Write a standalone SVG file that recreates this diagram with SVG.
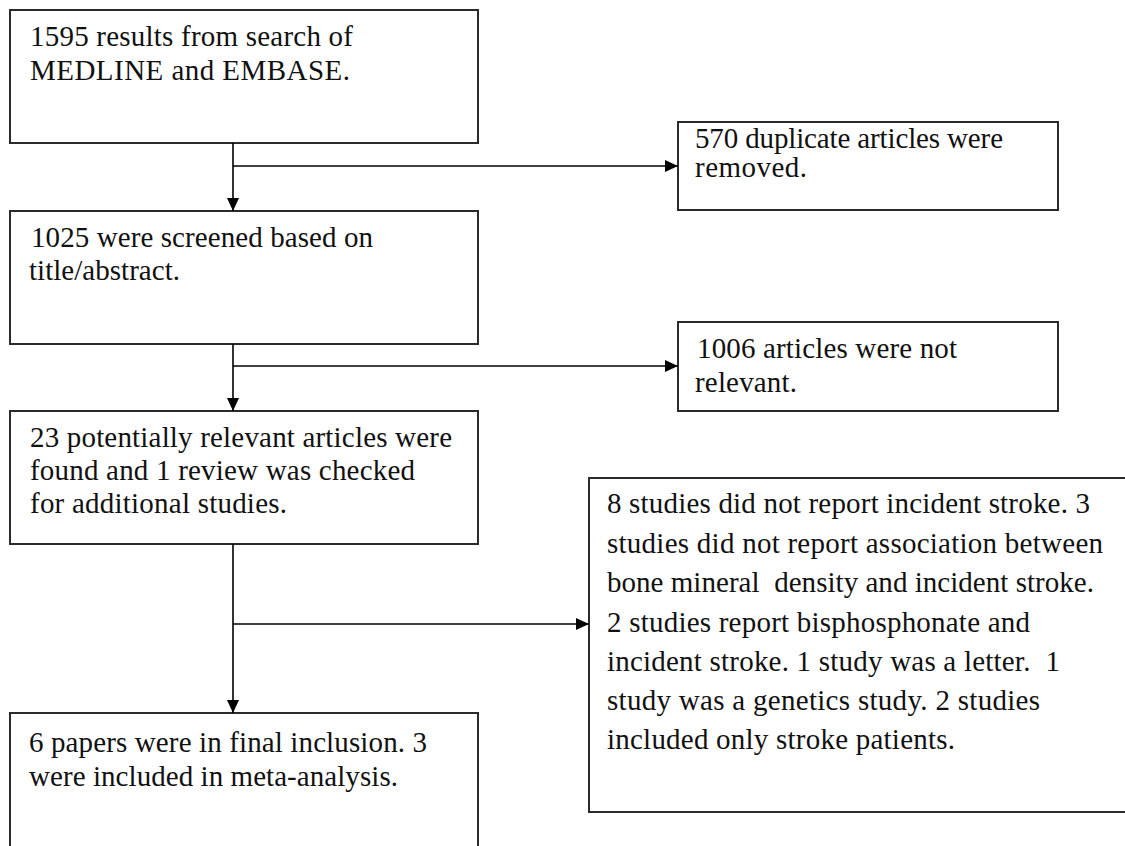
<svg xmlns="http://www.w3.org/2000/svg" width="1125" height="846" viewBox="0 0 1125 846">
<style>
.box{fill:#fff;stroke:#2b2b2b;stroke-width:2}
.t{font-family:"Liberation Serif","Times New Roman",serif;font-size:29px;fill:#111;white-space:pre}
.c{fill:none;stroke:#000;stroke-width:1.6}
</style>
<defs>
<marker id="ah" markerUnits="userSpaceOnUse" markerWidth="14" markerHeight="13" refX="13" refY="6" orient="auto">
<path d="M0,0 L13,6 L0,12 Z" fill="#000"/>
</marker>
</defs>
<rect width="1125" height="846" fill="#fff"/>
<g id="n1"><rect class="box" x="10" y="10" width="468" height="133"/>
<text class="t" x="30" y="46" textLength="323" lengthAdjust="spacing">1595 results from search of</text>
<text class="t" x="30" y="80" textLength="320" lengthAdjust="spacing">MEDLINE and EMBASE.</text></g>
<g id="r1"><rect class="box" x="678" y="122" width="380" height="88"/>
<text class="t" x="695" y="148" textLength="308" lengthAdjust="spacing">570 duplicate articles were</text>
<text class="t" x="695" y="177" textLength="112" lengthAdjust="spacing">removed.</text></g>
<g id="n2"><rect class="box" x="10" y="211" width="468" height="133"/>
<text class="t" x="31" y="247" textLength="342" lengthAdjust="spacing">1025 were screened based on</text>
<text class="t" x="29" y="280" textLength="151" lengthAdjust="spacing">title/abstract.</text></g>
<g id="r2"><rect class="box" x="678" y="322" width="380" height="89"/>
<text class="t" x="697" y="358" textLength="260" lengthAdjust="spacing">1006 articles were not</text>
<text class="t" x="695" y="392" textLength="102" lengthAdjust="spacing">relevant.</text></g>
<g id="n3"><rect class="box" x="10" y="411" width="468" height="133"/>
<text class="t" x="30" y="447" textLength="422" lengthAdjust="spacing">23 potentially relevant articles were</text>
<text class="t" x="30" y="480" textLength="385" lengthAdjust="spacing">found and 1 review was checked</text>
<text class="t" x="30" y="513" textLength="257" lengthAdjust="spacing">for additional studies.</text></g>
<g id="r3"><rect class="box" x="589" y="478" width="545" height="334"/>
<text class="t" x="607" y="513" textLength="483" lengthAdjust="spacing">8 studies did not report incident stroke. 3</text>
<text class="t" x="607" y="553" textLength="496" lengthAdjust="spacing">studies did not report association between</text>
<text class="t" x="607" y="592" textLength="487" lengthAdjust="spacing" xml:space="preserve">bone mineral  density and incident stroke.</text>
<text class="t" x="607" y="632" textLength="423" lengthAdjust="spacing">2 studies report bisphosphonate and</text>
<text class="t" x="607" y="671" textLength="453" lengthAdjust="spacing" xml:space="preserve">incident stroke. 1 study was a letter.  1</text>
<text class="t" x="607" y="710" textLength="433" lengthAdjust="spacing">study was a genetics study. 2 studies</text>
<text class="t" x="607" y="749" textLength="348" lengthAdjust="spacing">included only stroke patients.</text></g>
<g id="n4"><rect class="box" x="10" y="713" width="468" height="150"/>
<text class="t" x="29" y="752" textLength="398" lengthAdjust="spacing">6 papers were in final inclusion. 3</text>
<text class="t" x="29" y="786" textLength="369" lengthAdjust="spacing">were included in meta-analysis.</text></g>
<g id="connectors">
<line class="c" x1="233" y1="143" x2="233" y2="211" marker-end="url(#ah)"/>
<line class="c" x1="233" y1="166" x2="678" y2="166" marker-end="url(#ah)"/>
<line class="c" x1="233" y1="344" x2="233" y2="411" marker-end="url(#ah)"/>
<line class="c" x1="233" y1="366" x2="678" y2="366" marker-end="url(#ah)"/>
<line class="c" x1="233" y1="544" x2="233" y2="713" marker-end="url(#ah)"/>
<line class="c" x1="233" y1="624" x2="589" y2="624" marker-end="url(#ah)"/>
</g>
</svg>
